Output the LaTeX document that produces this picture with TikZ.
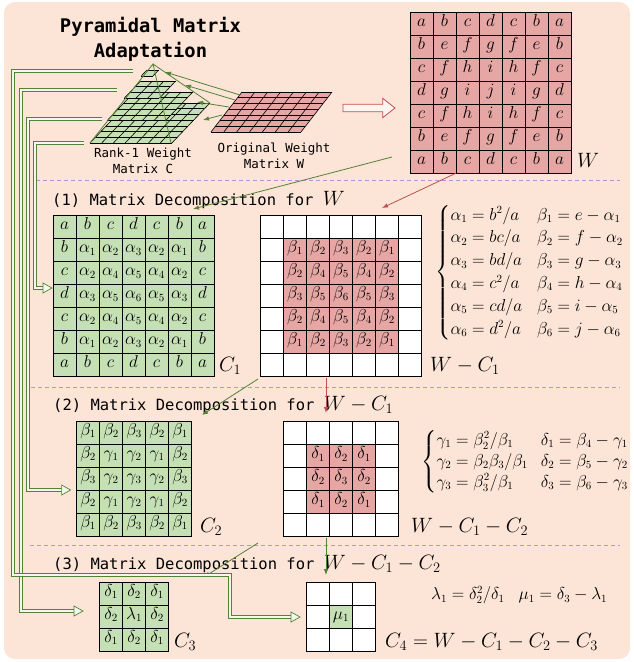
\documentclass[tikz,border=0pt]{standalone}
\usepackage{fontspec}
\setmonofont{DejaVu Sans Mono}
\usepackage{amsmath}
\usetikzlibrary{arrows.meta,calc}
\definecolor{bgc}{HTML}{FCE4D6}
\definecolor{gfill}{HTML}{C5E0B4}
\definecolor{rfill}{HTML}{E6A6A4}
\definecolor{gline}{HTML}{548235}
\definecolor{rline}{HTML}{C0504D}
\definecolor{dashc}{HTML}{B196D6}
\definecolor{dfill}{HTML}{F3F8EE}
\newcommand\skewgrid[7]{%
\begin{scope}[xshift=#1pt,yshift=-#2pt,x={(#5pt,0pt)},y={(-#6pt,-#7pt)}]
\fill[#4] (0,0) -- (#3,0) -- (#3,#3) -- (0,#3) -- cycle;
\foreach \ii in {0,...,#3}{\draw[skewline] (\ii,0) -- (\ii,#3); \draw[skewline] (0,\ii) -- (#3,\ii);}
\end{scope}}
\newcommand\strA{\rule[-6.9pt]{0pt}{22.8pt}}
\newcommand\strB{\rule[-6.3pt]{0pt}{21pt}}
\begin{document}
\begin{tikzpicture}[x=1pt,y=-1pt,
  skewline/.style={draw=black,line width=0.6pt},
  cellbase/.style={draw=black,line width=0.8pt,minimum size=23pt,inner sep=0pt,text height=0.7em,text depth=0.2em,font=\fontsize{16}{19}\selectfont},
  gcell/.style={cellbase,fill=gfill},
  rcell/.style={cellbase,fill=rfill},
  wcell/.style={cellbase,fill=white},
  ttl/.style={font=\ttfamily\bfseries\fontsize{18.8}{22}\selectfont,inner sep=0pt},
  small/.style={font=\ttfamily\fontsize{12.5}{15}\selectfont,inner sep=0pt},
  head/.style={font=\ttfamily\fontsize{15.5}{18}\selectfont,inner sep=0pt,anchor=base west},
  lbl/.style={font=\fontsize{20}{24}\selectfont,inner sep=0pt,anchor=base west},
  eqn/.style={font=\fontsize{16}{19.2}\selectfont,inner sep=0pt,anchor=west},
  sep/.style={draw=dashc,line width=0.8pt,dash pattern=on 4pt off 3pt},
  garrow/.style={draw=gline,line width=0.8pt,-{Latex[length=6pt,width=4.5pt]}},
  rarrow/.style={draw=rline,line width=0.8pt,-{Latex[length=6pt,width=4.5pt]}},
  gthin/.style={draw=gline,line width=0.8pt},
  dline/.style={draw=gline,line width=0.7pt,double=dfill,double distance=1.8pt},
  ohead/.style={draw=gline,line width=0.7pt,fill=dfill}]
\useasboundingbox (0,0) rectangle (633,662);
\fill[bgc,rounded corners=11pt] (4,2) rectangle (630,659);
% separators
\draw[sep] (36,180) -- (620,180);
\draw[sep] (31,387) -- (620,387);
\draw[sep] (30,545) -- (620,545);
% title
\node[ttl,anchor=base] (title1) at (150.5,32) {Pyramidal Matrix};
\node[ttl,anchor=base] (title2) at (150.5,57) {Adaptation};
% pyramid of rank-1 matrices
\skewgrid{128}{103}{7}{gfill}{11.7}{5.415}{5.7}
\skewgrid{134.3}{92}{5}{gfill}{11.7}{5.415}{5.7}
\skewgrid{140.6}{81}{3}{gfill}{11.7}{5.415}{5.7}
\skewgrid{146.85}{70.1}{1}{gfill}{11.7}{5.415}{5.7}
\coordinate (apex) at (153,64);
\coordinate (pbl) at (90,143);
\coordinate (pbr) at (171,143);
\coordinate (ptr) at (210,103);
\draw[gthin] (pbl) -- (apex) -- (pbr);
\draw[gthin] (apex) -- (ptr);
% original weight matrix
\skewgrid{242}{92}{7}{rfill}{12.86}{4.43}{5.71}
\coordinate (rA) at (240,95); \coordinate (rB) at (235,100);
\coordinate (rC) at (229,107); \coordinate (rD) at (222,115);
\coordinate (L4) at (165,72); \coordinate (L3) at (185,85);
\coordinate (L2) at (197,102); \coordinate (L1) at (203,120);
\draw[garrow] (rA) -- (L4);
\draw[garrow] (rB) -- (L3);
\draw[garrow] (rC) -- (L2);
\draw[garrow] (rD) -- (L1);
\node[small,anchor=base] (lblC1) at (143,157) {Rank-1 Weight};
\node[small,anchor=base] (lblC2) at (143,173) {Matrix C};
\node[small,anchor=base] (lblW1) at (274,152) {Original Weight};
\node[small,anchor=base] (lblW2) at (274,168) {Matrix W};
% hollow arrow
\draw[draw=rline,line width=0.8pt,fill=bgc!40!white] (343,104.3) -- (382.7,104.3) -- (382.7,98.3) -- (395,108) -- (382.7,117.7) -- (382.7,111.7) -- (343,111.7) -- cycle;
% W matrix
\foreach \row [count=\rr] in {{a,b,c,d,c,b,a},{b,e,f,g,f,e,b},{c,f,h,i,h,f,c},{d,g,i,j,i,g,d},{c,f,h,i,h,f,c},{b,e,f,g,f,e,b},{a,b,c,d,c,b,a}}
 {\foreach \ent [count=\cc] in \row {\node[rcell] (W-\rr-\cc) at ({410+23*\cc-11.5},{12+23*\rr-11.5}) {$\ent$};}}
\node[lbl] (lW) at (577,167) {$W$};
% section 1
\node[head] (h1) at (52,205) {(1) Matrix Decomposition for {\rmfamily\fontsize{20}{24}\selectfont$W$}};
\foreach \row [count=\rr] in {{a,b,c,d,c,b,a},{b,\alpha_1,\alpha_2,\alpha_3,\alpha_2,\alpha_1,b},{c,\alpha_2,\alpha_4,\alpha_5,\alpha_4,\alpha_2,c},{d,\alpha_3,\alpha_5,\alpha_6,\alpha_5,\alpha_3,d},{c,\alpha_2,\alpha_4,\alpha_5,\alpha_4,\alpha_2,c},{b,\alpha_1,\alpha_2,\alpha_3,\alpha_2,\alpha_1,b},{a,b,c,d,c,b,a}}
 {\foreach \ent [count=\cc] in \row {\node[gcell] (C1-\rr-\cc) at ({53+23*\cc-11.5},{215.5+23*\rr-11.5}) {$\ent$};}}
\node[lbl] (lC1) at (219,371) {$C_1$};
\foreach \rr in {1,...,7}{\foreach \cc in {1,...,7}{\node[wcell] (R1-\rr-\cc) at ({260.5+23*\cc-11.5},{215+23*\rr-11.5}) {};}}
\foreach \row [count=\rr] in {{\beta_1,\beta_2,\beta_3,\beta_2,\beta_1},{\beta_2,\beta_4,\beta_5,\beta_4,\beta_2},{\beta_3,\beta_5,\beta_6,\beta_5,\beta_3},{\beta_2,\beta_4,\beta_5,\beta_4,\beta_2},{\beta_1,\beta_2,\beta_3,\beta_2,\beta_1}}
 {\foreach \ent [count=\cc] in \row {\node[rcell] (B-\rr-\cc) at ({283.5+23*\cc-11.5},{238+23*\rr-11.5}) {$\ent$};}}
\node[lbl] (lR1) at (430,371) {$W-C_1$};
\node[eqn] (eq1) at (435,272.5) {$\left\{\begin{array}{@{}l@{\hspace{15pt}}l@{}}
\strA\alpha_1=b^2/a & \beta_1=e-\alpha_1\\
\strA\alpha_2=bc/a & \beta_2=f-\alpha_2\\
\strA\alpha_3=bd/a & \beta_3=g-\alpha_3\\
\strA\alpha_4=c^2/a & \beta_4=h-\alpha_4\\
\strA\alpha_5=cd/a & \beta_5=i-\alpha_5\\
\strA\alpha_6=d^2/a & \beta_6=j-\alpha_6
\end{array}\right.$};
\coordinate (g1s) at (392,157); \coordinate (g1e) at (193,209);
\draw[garrow] (g1s) -- (g1e);
\coordinate (r1e) at (382,208);
\draw[rarrow] (W-7-3.south west) -- (r1e);
% section 2
\node[head] (h2) at (53,410) {(2) Matrix Decomposition for {\rmfamily\fontsize{20}{24}\selectfont$W-C_1$}};
\foreach \row [count=\rr] in {{\beta_1,\beta_2,\beta_3,\beta_2,\beta_1},{\beta_2,\gamma_1,\gamma_2,\gamma_1,\beta_2},{\beta_3,\gamma_2,\gamma_3,\gamma_2,\beta_3},{\beta_2,\gamma_1,\gamma_2,\gamma_1,\beta_2},{\beta_1,\beta_2,\beta_3,\beta_2,\beta_1}}
 {\foreach \ent [count=\cc] in \row {\node[gcell] (C2-\rr-\cc) at ({76.6+23*\cc-11.5},{421+23*\rr-11.5}) {$\ent$};}}
\node[lbl] (lC2) at (200,532) {$C_2$};
\foreach \rr in {1,...,5}{\foreach \cc in {1,...,5}{\node[wcell] (R2-\rr-\cc) at ({283.5+23*\cc-11.5},{421.5+23*\rr-11.5}) {};}}
\foreach \row [count=\rr] in {{\delta_1,\delta_2,\delta_1},{\delta_2,\delta_3,\delta_2},{\delta_1,\delta_2,\delta_1}}
 {\foreach \ent [count=\cc] in \row {\node[rcell] (D-\rr-\cc) at ({306.5+23*\cc-11.5},{444.5+23*\rr-11.5}) {$\ent$};}}
\node[lbl] (lR2) at (411,532) {$W-C_1-C_2$};
\node[eqn] (eq2) at (421,462) {$\left\{\begin{array}{@{}l@{\hspace{13pt}}l@{}}
\strB\gamma_1=\beta_2^2/\beta_1 & \delta_1=\beta_4-\gamma_1\\
\strB\gamma_2=\beta_2\beta_3/\beta_1 & \delta_2=\beta_5-\gamma_2\\
\strB\gamma_3=\beta_3^2/\beta_1 & \delta_3=\beta_6-\gamma_3
\end{array}\right.$};
\coordinate (r2s) at (326,378); \coordinate (r2e) at (326,413);
\draw[rarrow] (r2s) -- (r2e);
\coordinate (g2s) at (258,379); \coordinate (g2e) at (202,415);
\draw[garrow] (g2s) -- (g2e);
% section 3
\node[head] (h3) at (53,569) {(3) Matrix Decomposition for {\rmfamily\fontsize{20}{24}\selectfont$W-C_1-C_2$}};
\foreach \row [count=\rr] in {{\delta_1,\delta_2,\delta_1},{\delta_2,\lambda_1,\delta_2},{\delta_1,\delta_2,\delta_1}}
 {\foreach \ent [count=\cc] in \row {\node[gcell] (C3-\rr-\cc) at ({99.6+23*\cc-11.5},{582+23*\rr-11.5}) {$\ent$};}}
\node[lbl] (lC3) at (174,647) {$C_3$};
\foreach \rr in {1,...,3}{\foreach \cc in {1,...,3}{\node[wcell] (C4-\rr-\cc) at ({306.5+23*\cc-11.5},{582+23*\rr-11.5}) {};}}
\node[gcell] (mu) at (C4-2-2) {$\mu_1$};
\node[lbl] (lC4) at (385,647) {$C_4=W-C_1-C_2-C_3$};
\node[eqn] (eq3) at (431,595) {$\lambda_1=\delta_2^2/\delta_1\hspace{14pt}\mu_1=\delta_3-\lambda_1$};
\coordinate (g3s) at (326,538); \coordinate (g3e) at (326,575);
\draw[garrow] (g3s) -- (g3e);
\coordinate (g4s) at (258,543); \coordinate (g4e) at (204,577);
\draw[garrow] (g4s) -- (g4e);
% double-line connectors from the pyramid layers
\coordinate (s1) at (133,71); \coordinate (s2) at (117,90);
\coordinate (s3) at (102,119); \coordinate (s4) at (84,143);
\coordinate (t1) at (52,288); \coordinate (t2) at (70.6,490);
\coordinate (t3) at (83,611); \coordinate (t4) at (300,617);
\draw[dline] (s4) -| (35,288) -- ($(t1)+(-9,0)$);
\draw[ohead] (t1) -- ++(-9,-5) -- ++(0,10) -- cycle;
\draw[dline] (s3) -| (28,490) -- ($(t2)+(-9,0)$);
\draw[ohead] (t2) -- ++(-9,-5) -- ++(0,10) -- cycle;
\draw[dline] (s2) -| (21,611) -- ($(t3)+(-9,0)$);
\draw[ohead] (t3) -- ++(-9,-5) -- ++(0,10) -- cycle;
\draw[dline] (s1) -| (13,575) -| (230,617) -- ($(t4)+(-9,0)$);
\draw[ohead] (t4) -- ++(-9,-5) -- ++(0,10) -- cycle;
\end{tikzpicture}
\end{document}
